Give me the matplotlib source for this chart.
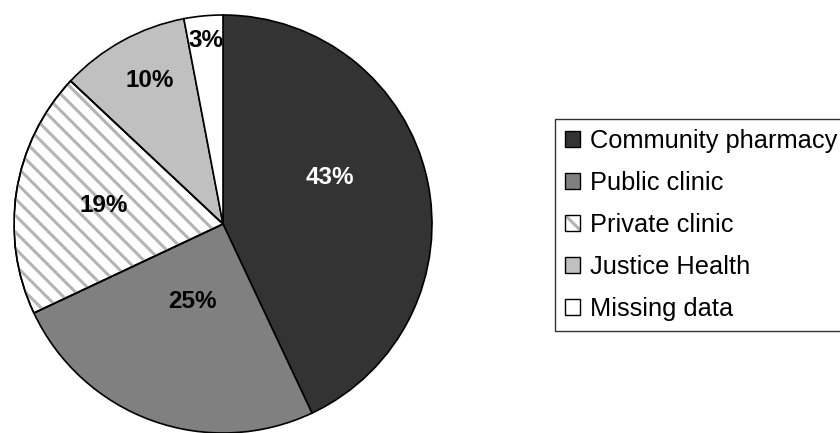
import matplotlib
matplotlib.use('Agg')
import matplotlib.pyplot as plt
import numpy as np
from matplotlib.patches import Patch, Wedge

plt.rcParams['font.family'] = ['Liberation Sans', 'DejaVu Sans']
plt.rcParams['hatch.color'] = '#b4b4b4'
plt.rcParams['hatch.linewidth'] = 2.2

labels = ['Community pharmacy', 'Public clinic', 'Private clinic',
          'Justice Health', 'Missing data']
shares = [43, 25, 19, 10, 3]

COLORS = ['#333333', '#808080', '#ffffff', '#c0c0c0', '#ffffff']
LABEL_COLORS = ['white', 'black', 'black', 'black', 'black']
HATCHED = 2  # private clinic slice gets the striped fill

# label placement: radial distance and small angle nudge per slice
label_dist = [0.56, 0.40, 0.58, 0.77, 0.88]
label_nudge = [11.0, -1.6, 0.0, -1.6, 0.0]

fig = plt.figure(figsize=(8.4, 4.33), dpi=100)
cx, cy, r = 223, 224, 209
ax = fig.add_axes([(cx - r) / 840, (433 - cy - r) / 433, 2 * r / 840, 2 * r / 433])

wedges, texts, autotexts = ax.pie(
    shares, colors=COLORS, startangle=90, counterclock=False,
    autopct='%1.0f%%',
    wedgeprops=dict(edgecolor='black', linewidth=1.2),
    textprops=dict(fontsize=17.5, fontweight='bold', color='black'))

# stripes for the hatched slice, drawn between the fill and the outline
w = wedges[HATCHED]
stripes = Wedge(w.center, w.r, w.theta1, w.theta2, facecolor='none',
                hatch='\\\\', linewidth=0, zorder=w.get_zorder() + 0.1)
ax.add_patch(stripes)
outline = Wedge(w.center, w.r, w.theta1, w.theta2, facecolor='none',
                edgecolor='black', linewidth=1.2, zorder=w.get_zorder() + 0.2)
ax.add_patch(outline)

for wd, t, d, nudge, tc in zip(wedges, autotexts, label_dist, label_nudge, LABEL_COLORS):
    ang = np.deg2rad((wd.theta1 + wd.theta2) / 2 + nudge)
    t.set_position((d * np.cos(ang), d * np.sin(ang)))
    t.set_color(tc)
    t.set_zorder(5)

ax.set_xlim(-1, 1)
ax.set_ylim(-1, 1)
ax.set_aspect('equal')
ax.axis('off')

handles = []
for i, c in enumerate(COLORS):
    if i == HATCHED:
        handles.append((Patch(facecolor='white', hatch='\\\\'),
                        Patch(facecolor='none', edgecolor='black', linewidth=1.0)))
    else:
        handles.append(Patch(facecolor=c, edgecolor='black', linewidth=1.0))

leg = fig.legend(handles, labels, loc='upper left',
                 bbox_to_anchor=(555 / 840, (433 - 119) / 433),
                 borderaxespad=0, frameon=True, fancybox=False,
                 edgecolor='black', fontsize=18.3, handlelength=0.6,
                 handleheight=0.6, handletextpad=0.4, labelspacing=0.71,
                 borderpad=0.38)
leg.get_frame().set_linewidth(1.0)

fig.savefig('out.png', dpi=100)
